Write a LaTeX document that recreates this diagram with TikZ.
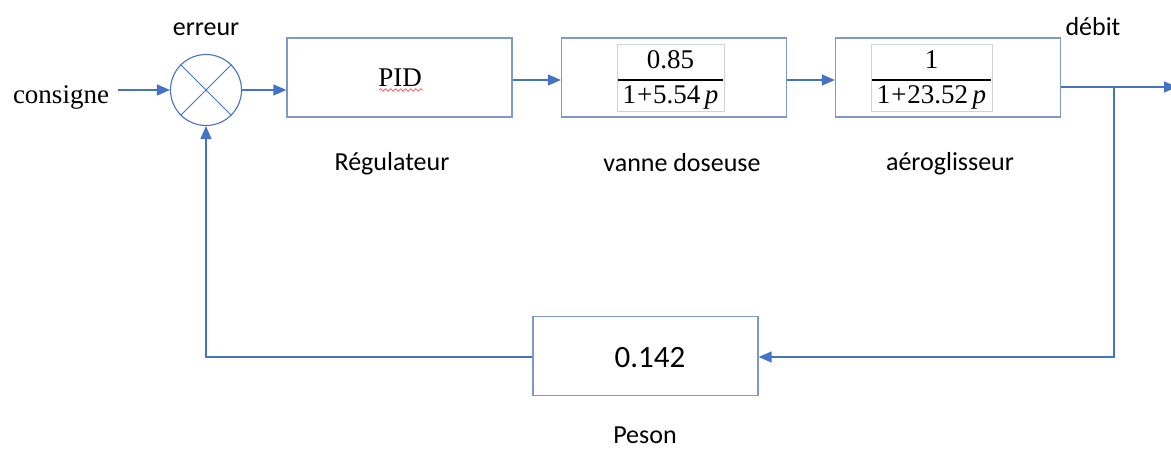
\documentclass[tikz,border=0pt]{standalone}
\usepackage{fontspec}
\setmainfont{Liberation Serif}
\newfontfamily\calib{Carlito}
\usetikzlibrary{arrows.meta,decorations.pathmorphing}
\definecolor{lineblue}{RGB}{68,114,196}
\definecolor{boxblue}{RGB}{125,152,205}
\definecolor{fracgray}{RGB}{210,210,210}
\begin{document}
\begin{tikzpicture}[x=1pt,y=-1pt,
  conn/.style={draw=lineblue,line width=1.3pt},
  arr/.style={conn,-{Triangle[length=13pt,width=11pt]}},
  blockbox/.style={draw=boxblue,line width=1.3pt,minimum width=225pt,minimum height=79pt,inner sep=0pt},
  fracbox/.style={draw=fracgray,line width=1pt,inner sep=0pt},
  serif/.style={font=\fontsize{27}{30}\selectfont,inner sep=0pt,anchor=base},
  lbl/.style={font=\calib\fontsize{26}{30}\selectfont,inner sep=0pt,anchor=base}
]
\useasboundingbox (0,0) rectangle (1171,448);
% summing junction
\node[circle,draw=lineblue,line width=1.1pt,minimum size=71pt,inner sep=0pt] (sum) at (206,90) {};
\draw[lineblue,line width=1pt] (sum.north east) -- (sum.south west) (sum.north west) -- (sum.south east);
% blocks
\node[blockbox] (pid) at (399.5,77.5) {};
\node[blockbox] (vanne) at (674,77.5) {};
\node[blockbox] (aero) at (948,77.5) {};
\node[blockbox] (peson) at (645.5,356) {};
% texts
\node[serif] (consigne) at (61,103) {consigne};
\node[lbl] (erreur) at (206,35) {erreur};
\node[lbl] (debit) at (1093,35) {débit};
\node[serif] (pidtxt) at (400,86) {PID};
\draw[red!70,line width=0.7pt,decorate,decoration={snake,amplitude=1.3pt,segment length=5pt}] (379,90) -- (423,90);
\node[lbl] (reg) at (392,170) {Régulateur};
\node[lbl] (vd) at (682,171) {vanne doseuse};
\node[lbl] (ag) at (950,170) {aéroglisseur};
\node[font=\calib\fontsize{31}{34}\selectfont,inner sep=0pt,anchor=base] (k) at (650,367) {0.142};
\node[lbl] (pesontxt) at (645,443) {Peson};
% fractions
\node[fracbox,minimum width=107pt,minimum height=67pt] (f1) at (670.5,77.5) {};
\node[serif] (n1) at (670.5,68) {0.85};
\node[serif] (d1) at (670.5,103) {1\kern1pt+\kern1pt5.54\,\textit{p}};
\draw[black,line width=1.6pt] (618,80) -- (723,80);
\node[fracbox,minimum width=121pt,minimum height=67pt] (f2) at (931.5,77.5) {};
\node[serif] (n2) at (931.5,68) {1};
\node[serif] (d2) at (931.5,103) {1\kern1pt+\kern1pt23.52\,\textit{p}};
\draw[black,line width=1.6pt] (872,80) -- (991,80);
% connectors
\coordinate (in) at (118,90);
\coordinate (branch) at (1114,87);
\coordinate (out) at (1177,87);
\coordinate (fbr) at (1114,357);
\coordinate (fbl) at (206,357);
\draw[arr] (in) -- (sum.west);
\draw[arr] (sum.east) -- (pid.west |- sum.east);
\draw[arr] (pid.east |- 0,80) -- (vanne.west |- 0,80);
\draw[arr] (vanne.east |- 0,80) -- (aero.west |- 0,80);
\draw[arr] (aero.east |- branch) -- (out);
\draw[arr] (branch) -- (fbr) -- (peson.east |- fbr);
\draw[arr] (peson.west |- fbl) -- (fbl) -- (sum.south);
\end{tikzpicture}
\end{document}
